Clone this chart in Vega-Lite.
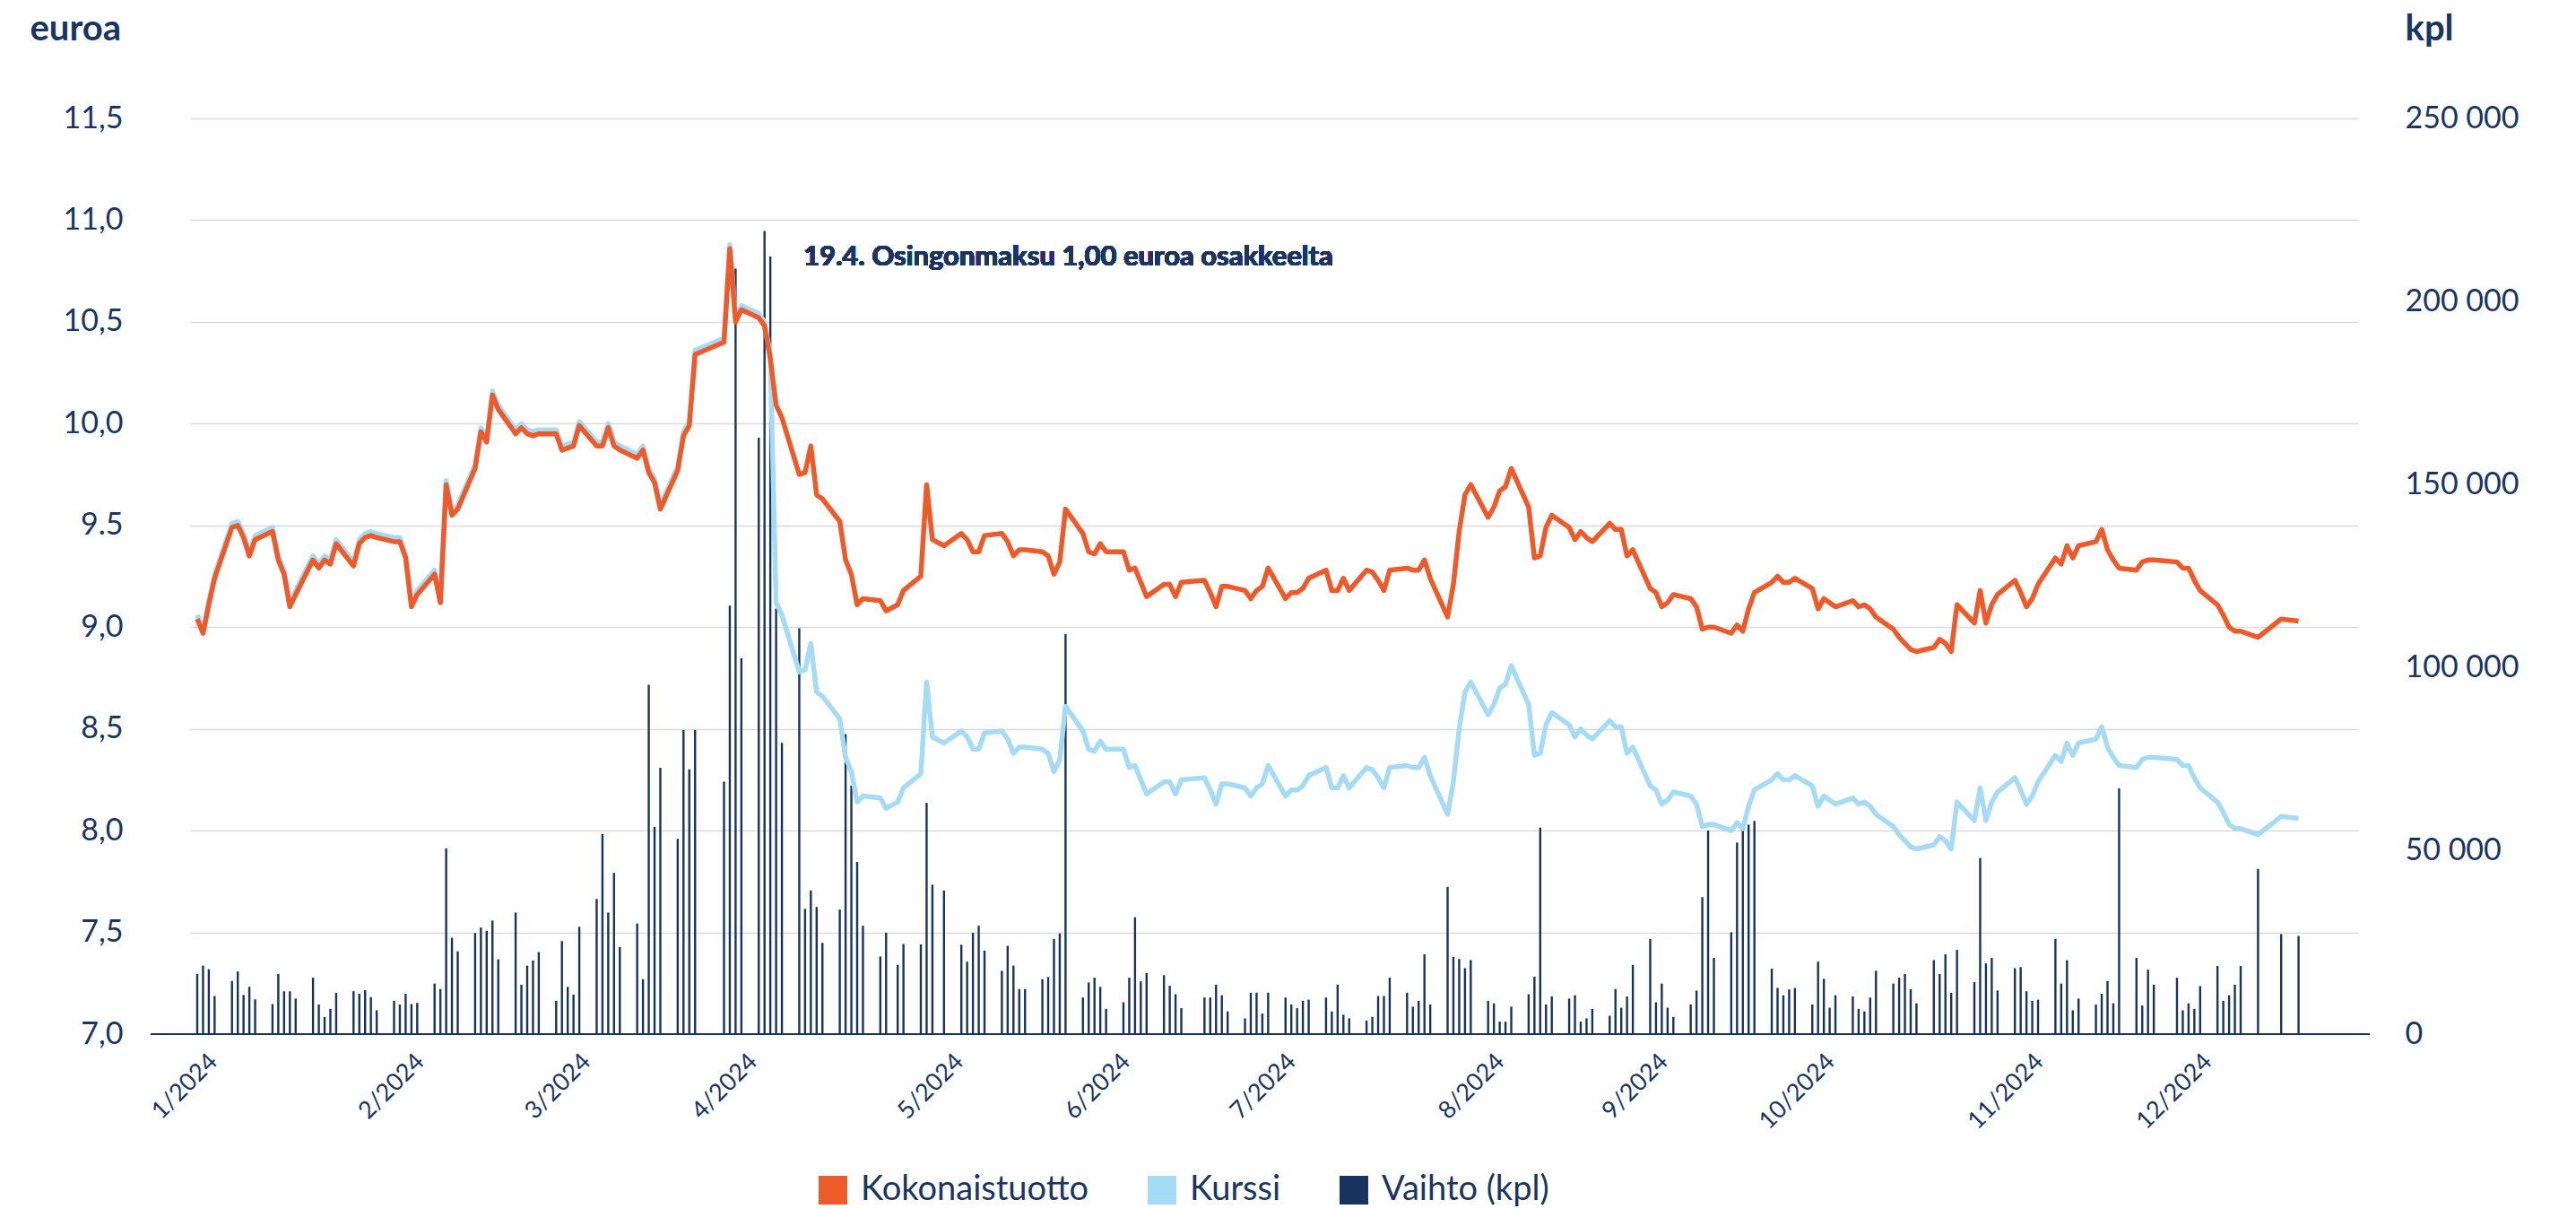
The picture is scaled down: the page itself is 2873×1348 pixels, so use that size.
{
  "$schema": "https://vega.github.io/schema/vega-lite/v6.json",
  "width": 2418,
  "height": 1021,
  "autosize": {"type": "none"},
  "padding": {"left": 212, "top": 132, "right": 243, "bottom": 195},
  "background": "#ffffff",
  "data": {"values": [
    {"d":"2024-01-02","k":9.04,"p":9.06,"v":16400},{"d":"2024-01-03","k":8.97,"p":8.99,"v":18700},{"d":"2024-01-04","k":9.11,"p":9.13,"v":17700},{"d":"2024-01-05","k":9.24,"p":9.26,"v":10400},
    {"d":"2024-01-08","k":9.49,"p":9.51,"v":14500},{"d":"2024-01-09","k":9.50,"p":9.52,"v":17100},{"d":"2024-01-10","k":9.44,"p":9.46,"v":10700},{"d":"2024-01-11","k":9.35,"p":9.37,"v":12900},{"d":"2024-01-12","k":9.43,"p":9.45,"v":9500},
    {"d":"2024-01-15","k":9.47,"p":9.49,"v":8200},{"d":"2024-01-16","k":9.33,"p":9.35,"v":16400},{"d":"2024-01-17","k":9.26,"p":9.28,"v":11700},{"d":"2024-01-18","k":9.10,"p":9.12,"v":11700},{"d":"2024-01-19","k":9.16,"p":9.18,"v":9700},
    {"d":"2024-01-22","k":9.33,"p":9.35,"v":15400},{"d":"2024-01-23","k":9.29,"p":9.31,"v":8100},{"d":"2024-01-24","k":9.33,"p":9.35,"v":4700},{"d":"2024-01-25","k":9.31,"p":9.33,"v":6900},{"d":"2024-01-26","k":9.41,"p":9.43,"v":11300},
    {"d":"2024-01-29","k":9.30,"p":9.32,"v":11700},{"d":"2024-01-30","k":9.41,"p":9.43,"v":11000},{"d":"2024-01-31","k":9.44,"p":9.46,"v":12000},{"d":"2024-02-01","k":9.45,"p":9.47,"v":10100},{"d":"2024-02-02","k":9.44,"p":9.46,"v":6500},
    {"d":"2024-02-05","k":9.42,"p":9.44,"v":9100},{"d":"2024-02-06","k":9.42,"p":9.44,"v":8100},{"d":"2024-02-07","k":9.34,"p":9.36,"v":11000},{"d":"2024-02-08","k":9.10,"p":9.12,"v":8200},{"d":"2024-02-09","k":9.16,"p":9.18,"v":8500},
    {"d":"2024-02-12","k":9.26,"p":9.28,"v":13800},{"d":"2024-02-13","k":9.12,"p":9.14,"v":12300},{"d":"2024-02-14","k":9.70,"p":9.72,"v":50700},{"d":"2024-02-15","k":9.55,"p":9.57,"v":26300},{"d":"2024-02-16","k":9.58,"p":9.60,"v":22600},
    {"d":"2024-02-19","k":9.78,"p":9.80,"v":27600},{"d":"2024-02-20","k":9.96,"p":9.98,"v":29100},{"d":"2024-02-21","k":9.91,"p":9.93,"v":28200},{"d":"2024-02-22","k":10.14,"p":10.16,"v":31000},{"d":"2024-02-23","k":10.07,"p":10.09,"v":20400},
    {"d":"2024-02-26","k":9.95,"p":9.97,"v":33200},{"d":"2024-02-27","k":9.98,"p":10.00,"v":13500},{"d":"2024-02-28","k":9.95,"p":9.97,"v":18700},{"d":"2024-02-29","k":9.94,"p":9.96,"v":20100},{"d":"2024-03-01","k":9.95,"p":9.97,"v":22400},
    {"d":"2024-03-04","k":9.95,"p":9.97,"v":9100},{"d":"2024-03-05","k":9.87,"p":9.89,"v":25400},{"d":"2024-03-06","k":9.88,"p":9.90,"v":12900},{"d":"2024-03-07","k":9.89,"p":9.91,"v":10800},{"d":"2024-03-08","k":9.99,"p":10.01,"v":29300},
    {"d":"2024-03-11","k":9.89,"p":9.91,"v":36900},{"d":"2024-03-12","k":9.89,"p":9.91,"v":54600},{"d":"2024-03-13","k":9.98,"p":10.00,"v":33200},{"d":"2024-03-14","k":9.89,"p":9.91,"v":44000},{"d":"2024-03-15","k":9.87,"p":9.89,"v":23800},
    {"d":"2024-03-18","k":9.83,"p":9.85,"v":30200},{"d":"2024-03-19","k":9.87,"p":9.89,"v":15000},{"d":"2024-03-20","k":9.76,"p":9.78,"v":95400},{"d":"2024-03-21","k":9.71,"p":9.73,"v":56600},{"d":"2024-03-22","k":9.58,"p":9.60,"v":72700},
    {"d":"2024-03-25","k":9.77,"p":9.79,"v":53300},{"d":"2024-03-26","k":9.94,"p":9.96,"v":83000},{"d":"2024-03-27","k":9.99,"p":10.01,"v":72300},{"d":"2024-03-28","k":10.34,"p":10.36,"v":83000},
    {"d":"2024-04-02","k":10.40,"p":10.42,"v":68900},{"d":"2024-04-03","k":10.86,"p":10.88,"v":117000},{"d":"2024-04-04","k":10.50,"p":10.52,"v":209000},{"d":"2024-04-05","k":10.56,"p":10.58,"v":102600},
    {"d":"2024-04-08","k":10.52,"p":10.54,"v":162800},{"d":"2024-04-09","k":10.48,"p":10.50,"v":219300},{"d":"2024-04-10","k":10.32,"p":10.34,"v":212300},{"d":"2024-04-11","k":10.09,"p":9.12,"v":116200},{"d":"2024-04-12","k":10.03,"p":9.06,"v":79500},
    {"d":"2024-04-15","k":9.75,"p":8.78,"v":110800},{"d":"2024-04-16","k":9.76,"p":8.79,"v":34200},{"d":"2024-04-17","k":9.89,"p":8.92,"v":39200},{"d":"2024-04-18","k":9.65,"p":8.68,"v":34700},{"d":"2024-04-19","k":9.63,"p":8.66,"v":24900},
    {"d":"2024-04-22","k":9.52,"p":8.55,"v":34000},{"d":"2024-04-23","k":9.33,"p":8.36,"v":81900},{"d":"2024-04-24","k":9.26,"p":8.29,"v":67800},{"d":"2024-04-25","k":9.11,"p":8.14,"v":47000},{"d":"2024-04-26","k":9.14,"p":8.17,"v":29600},
    {"d":"2024-04-29","k":9.13,"p":8.16,"v":21200},{"d":"2024-04-30","k":9.08,"p":8.11,"v":27700},{"d":"2024-05-02","k":9.11,"p":8.14,"v":18900},{"d":"2024-05-03","k":9.18,"p":8.21,"v":24600},
    {"d":"2024-05-06","k":9.25,"p":8.28,"v":24500},{"d":"2024-05-07","k":9.70,"p":8.73,"v":63100},{"d":"2024-05-08","k":9.43,"p":8.46,"v":40800},{"d":"2024-05-10","k":9.40,"p":8.43,"v":39200},
    {"d":"2024-05-13","k":9.46,"p":8.49,"v":24400},{"d":"2024-05-14","k":9.43,"p":8.46,"v":19800},{"d":"2024-05-15","k":9.37,"p":8.40,"v":27700},{"d":"2024-05-16","k":9.37,"p":8.40,"v":29600},{"d":"2024-05-17","k":9.45,"p":8.48,"v":22800},
    {"d":"2024-05-20","k":9.46,"p":8.49,"v":17300},{"d":"2024-05-21","k":9.42,"p":8.45,"v":24100},{"d":"2024-05-22","k":9.35,"p":8.38,"v":18700},{"d":"2024-05-23","k":9.38,"p":8.41,"v":12300},{"d":"2024-05-24","k":9.38,"p":8.41,"v":12300},
    {"d":"2024-05-27","k":9.37,"p":8.40,"v":15000},{"d":"2024-05-28","k":9.35,"p":8.38,"v":15600},{"d":"2024-05-29","k":9.26,"p":8.29,"v":26000},{"d":"2024-05-30","k":9.32,"p":8.35,"v":27500},{"d":"2024-05-31","k":9.58,"p":8.61,"v":109200},
    {"d":"2024-06-03","k":9.46,"p":8.49,"v":10000},{"d":"2024-06-04","k":9.37,"p":8.40,"v":14100},{"d":"2024-06-05","k":9.36,"p":8.39,"v":15400},{"d":"2024-06-06","k":9.41,"p":8.44,"v":12900},{"d":"2024-06-07","k":9.37,"p":8.40,"v":6900},
    {"d":"2024-06-10","k":9.37,"p":8.40,"v":8700},{"d":"2024-06-11","k":9.28,"p":8.31,"v":15400},{"d":"2024-06-12","k":9.29,"p":8.32,"v":31900},{"d":"2024-06-13","k":9.22,"p":8.25,"v":14400},{"d":"2024-06-14","k":9.15,"p":8.18,"v":16700},
    {"d":"2024-06-17","k":9.21,"p":8.24,"v":16100},{"d":"2024-06-18","k":9.21,"p":8.24,"v":13200},{"d":"2024-06-19","k":9.15,"p":8.18,"v":10900},{"d":"2024-06-20","k":9.22,"p":8.25,"v":7100},
    {"d":"2024-06-24","k":9.23,"p":8.26,"v":10000},{"d":"2024-06-25","k":9.17,"p":8.20,"v":10000},{"d":"2024-06-26","k":9.10,"p":8.13,"v":13500},{"d":"2024-06-27","k":9.20,"p":8.23,"v":10600},{"d":"2024-06-28","k":9.20,"p":8.23,"v":6200},
    {"d":"2024-07-01","k":9.18,"p":8.21,"v":4300},{"d":"2024-07-02","k":9.14,"p":8.17,"v":11300},{"d":"2024-07-03","k":9.18,"p":8.21,"v":11300},{"d":"2024-07-04","k":9.20,"p":8.23,"v":5600},{"d":"2024-07-05","k":9.29,"p":8.32,"v":11300},
    {"d":"2024-07-08","k":9.14,"p":8.17,"v":10000},{"d":"2024-07-09","k":9.17,"p":8.20,"v":8100},{"d":"2024-07-10","k":9.17,"p":8.20,"v":7100},{"d":"2024-07-11","k":9.19,"p":8.22,"v":9100},{"d":"2024-07-12","k":9.24,"p":8.27,"v":9400},
    {"d":"2024-07-15","k":9.28,"p":8.31,"v":10000},{"d":"2024-07-16","k":9.18,"p":8.21,"v":6200},{"d":"2024-07-17","k":9.18,"p":8.21,"v":13500},{"d":"2024-07-18","k":9.24,"p":8.27,"v":5300},{"d":"2024-07-19","k":9.18,"p":8.21,"v":4300},
    {"d":"2024-07-22","k":9.28,"p":8.31,"v":3700},{"d":"2024-07-23","k":9.27,"p":8.30,"v":4700},{"d":"2024-07-24","k":9.23,"p":8.26,"v":10400},{"d":"2024-07-25","k":9.18,"p":8.21,"v":10400},{"d":"2024-07-26","k":9.28,"p":8.31,"v":15400},
    {"d":"2024-07-29","k":9.29,"p":8.32,"v":11300},{"d":"2024-07-30","k":9.28,"p":8.31,"v":7500},{"d":"2024-07-31","k":9.28,"p":8.31,"v":9100},{"d":"2024-08-01","k":9.33,"p":8.36,"v":21800},{"d":"2024-08-02","k":9.24,"p":8.27,"v":8100},
    {"d":"2024-08-05","k":9.05,"p":8.08,"v":40200},{"d":"2024-08-06","k":9.21,"p":8.24,"v":21100},{"d":"2024-08-07","k":9.47,"p":8.50,"v":20500},{"d":"2024-08-08","k":9.65,"p":8.68,"v":18000},{"d":"2024-08-09","k":9.70,"p":8.73,"v":20200},
    {"d":"2024-08-12","k":9.54,"p":8.57,"v":9100},{"d":"2024-08-13","k":9.59,"p":8.62,"v":8400},{"d":"2024-08-14","k":9.67,"p":8.70,"v":3400},{"d":"2024-08-15","k":9.69,"p":8.72,"v":3400},{"d":"2024-08-16","k":9.78,"p":8.81,"v":7500},
    {"d":"2024-08-19","k":9.59,"p":8.62,"v":10900},{"d":"2024-08-20","k":9.34,"p":8.37,"v":15700},{"d":"2024-08-21","k":9.35,"p":8.38,"v":56400},{"d":"2024-08-22","k":9.49,"p":8.52,"v":8100},{"d":"2024-08-23","k":9.55,"p":8.58,"v":10300},
    {"d":"2024-08-26","k":9.49,"p":8.52,"v":9700},{"d":"2024-08-27","k":9.43,"p":8.46,"v":10600},{"d":"2024-08-28","k":9.47,"p":8.50,"v":3400},{"d":"2024-08-29","k":9.44,"p":8.47,"v":4300},{"d":"2024-08-30","k":9.42,"p":8.45,"v":6900},
    {"d":"2024-09-02","k":9.51,"p":8.54,"v":5000},{"d":"2024-09-03","k":9.48,"p":8.51,"v":12300},{"d":"2024-09-04","k":9.48,"p":8.51,"v":7200},{"d":"2024-09-05","k":9.35,"p":8.38,"v":10300},{"d":"2024-09-06","k":9.38,"p":8.41,"v":18900},
    {"d":"2024-09-09","k":9.19,"p":8.22,"v":26000},{"d":"2024-09-10","k":9.17,"p":8.20,"v":8700},{"d":"2024-09-11","k":9.10,"p":8.13,"v":13800},{"d":"2024-09-12","k":9.12,"p":8.15,"v":7200},{"d":"2024-09-13","k":9.16,"p":8.19,"v":4700},
    {"d":"2024-09-16","k":9.14,"p":8.17,"v":8100},{"d":"2024-09-17","k":9.10,"p":8.13,"v":11900},{"d":"2024-09-18","k":8.99,"p":8.02,"v":37400},{"d":"2024-09-19","k":9.00,"p":8.03,"v":55600},{"d":"2024-09-20","k":9.00,"p":8.03,"v":20800},
    {"d":"2024-09-23","k":8.97,"p":8.00,"v":27800},{"d":"2024-09-24","k":9.01,"p":8.04,"v":52300},{"d":"2024-09-25","k":8.98,"p":8.01,"v":56700},{"d":"2024-09-26","k":9.09,"p":8.12,"v":57200},{"d":"2024-09-27","k":9.17,"p":8.20,"v":58200},
    {"d":"2024-09-30","k":9.22,"p":8.25,"v":17900},{"d":"2024-10-01","k":9.25,"p":8.28,"v":12600},{"d":"2024-10-02","k":9.22,"p":8.25,"v":10600},{"d":"2024-10-03","k":9.22,"p":8.25,"v":12200},{"d":"2024-10-04","k":9.24,"p":8.27,"v":12600},
    {"d":"2024-10-07","k":9.19,"p":8.22,"v":8100},{"d":"2024-10-08","k":9.09,"p":8.12,"v":19800},{"d":"2024-10-09","k":9.14,"p":8.17,"v":15100},{"d":"2024-10-10","k":9.12,"p":8.15,"v":7200},{"d":"2024-10-11","k":9.10,"p":8.13,"v":10600},
    {"d":"2024-10-14","k":9.13,"p":8.16,"v":10300},{"d":"2024-10-15","k":9.10,"p":8.13,"v":6900},{"d":"2024-10-16","k":9.11,"p":8.14,"v":6200},{"d":"2024-10-17","k":9.09,"p":8.12,"v":10000},{"d":"2024-10-18","k":9.05,"p":8.08,"v":17300},
    {"d":"2024-10-21","k":8.99,"p":8.02,"v":13800},{"d":"2024-10-22","k":8.95,"p":7.98,"v":15400},{"d":"2024-10-23","k":8.92,"p":7.95,"v":16400},{"d":"2024-10-24","k":8.89,"p":7.92,"v":12300},{"d":"2024-10-25","k":8.88,"p":7.91,"v":8400},
    {"d":"2024-10-28","k":8.90,"p":7.93,"v":20200},{"d":"2024-10-29","k":8.94,"p":7.97,"v":16400},{"d":"2024-10-30","k":8.92,"p":7.95,"v":21800},{"d":"2024-10-31","k":8.88,"p":7.91,"v":11300},{"d":"2024-11-01","k":9.11,"p":8.14,"v":23000},
    {"d":"2024-11-04","k":9.02,"p":8.05,"v":14200},{"d":"2024-11-05","k":9.18,"p":8.21,"v":48100},{"d":"2024-11-06","k":9.02,"p":8.05,"v":19300},{"d":"2024-11-07","k":9.11,"p":8.14,"v":20800},{"d":"2024-11-08","k":9.16,"p":8.19,"v":11900},
    {"d":"2024-11-11","k":9.23,"p":8.26,"v":18000},{"d":"2024-11-12","k":9.17,"p":8.20,"v":18300},{"d":"2024-11-13","k":9.10,"p":8.13,"v":11700},{"d":"2024-11-14","k":9.14,"p":8.17,"v":9100},{"d":"2024-11-15","k":9.21,"p":8.24,"v":9400},
    {"d":"2024-11-18","k":9.34,"p":8.37,"v":26000},{"d":"2024-11-19","k":9.31,"p":8.34,"v":13800},{"d":"2024-11-20","k":9.40,"p":8.43,"v":20200},{"d":"2024-11-21","k":9.34,"p":8.37,"v":6500},{"d":"2024-11-22","k":9.40,"p":8.43,"v":9700},
    {"d":"2024-11-25","k":9.42,"p":8.45,"v":8100},{"d":"2024-11-26","k":9.48,"p":8.51,"v":11000},{"d":"2024-11-27","k":9.38,"p":8.41,"v":14500},{"d":"2024-11-28","k":9.33,"p":8.36,"v":8400},{"d":"2024-11-29","k":9.29,"p":8.32,"v":67100},
    {"d":"2024-12-02","k":9.28,"p":8.31,"v":20800},{"d":"2024-12-03","k":9.32,"p":8.35,"v":7800},{"d":"2024-12-04","k":9.33,"p":8.36,"v":17600},{"d":"2024-12-05","k":9.33,"p":8.36,"v":13500},
    {"d":"2024-12-09","k":9.32,"p":8.35,"v":15400},{"d":"2024-12-10","k":9.29,"p":8.32,"v":6500},{"d":"2024-12-11","k":9.29,"p":8.32,"v":8400},{"d":"2024-12-12","k":9.23,"p":8.26,"v":6900},{"d":"2024-12-13","k":9.18,"p":8.21,"v":13100},
    {"d":"2024-12-16","k":9.11,"p":8.14,"v":18600},{"d":"2024-12-17","k":9.06,"p":8.09,"v":9100},{"d":"2024-12-18","k":9.00,"p":8.03,"v":10600},{"d":"2024-12-19","k":8.98,"p":8.01,"v":13500},{"d":"2024-12-20","k":8.98,"p":8.01,"v":18600},
    {"d":"2024-12-23","k":8.95,"p":7.98,"v":45100},{"d":"2024-12-27","k":9.04,"p":8.07,"v":27300},{"d":"2024-12-30","k":9.03,"p":8.06,"v":26800}
  ]},
  "layer": [
    {
      "mark": {"type": "bar", "size": 2.4, "color": "#17335e"},
      "encoding": {
        "x": {
          "field": "d", "type": "temporal",
          "scale": {"type": "utc", "domain": [{"year": 2024, "month": 1, "date": 1, "hours": 12, "minutes": 54, "utc": true}, {"year": 2025, "month": 1, "date": 8, "hours": 12, "minutes": 26, "utc": true}]},
          "axis": {
            "orient": "bottom", "title": null, "grid": false, "domain": false, "ticks": false, "tickSize": 0,
            "labelAngle": -45, "labelPadding": 17, "labelFontSize": 27, "labelOverlap": false, "labelFlush": false,
            "values": [
              {"year": 2024, "month": 1, "date": 3, "hours": 8, "minutes": 10, "utc": true},
              {"year": 2024, "month": 2, "date": 8, "hours": 1, "minutes": 40, "utc": true},
              {"year": 2024, "month": 3, "date": 7, "hours": 19, "minutes": 26, "utc": true},
              {"year": 2024, "month": 4, "date": 5, "hours": 14, "minutes": 38, "utc": true},
              {"year": 2024, "month": 5, "date": 11, "hours": 5, "minutes": 31, "utc": true},
              {"year": 2024, "month": 6, "date": 9, "hours": 0, "minutes": 43, "utc": true},
              {"year": 2024, "month": 7, "date": 7, "hours": 16, "minutes": 5, "utc": true},
              {"year": 2024, "month": 8, "date": 12, "hours": 15, "minutes": 50, "utc": true},
              {"year": 2024, "month": 9, "date": 9, "hours": 22, "minutes": 19, "utc": true},
              {"year": 2024, "month": 10, "date": 8, "hours": 17, "minutes": 45, "utc": true},
              {"year": 2024, "month": 11, "date": 13, "hours": 18, "minutes": 43, "utc": true},
              {"year": 2024, "month": 12, "date": 12, "hours": 22, "minutes": 5, "utc": true}
            ],
            "labelExpr": "utcFormat(datum.value, '%-m/%Y')"
          }
        },
        "y": {
          "field": "v", "type": "quantitative",
          "scale": {"domain": [0, 250000], "nice": false, "zero": true},
          "axis": {
            "orient": "right", "title": "kpl", "grid": false, "domain": false, "ticks": false,
            "values": [0, 50000, 100000, 150000, 200000, 250000],
            "labelExpr": "datum.value == 0 ? '0' : replace(format(datum.value, ','), ',', ' ')",
            "labelAlign": "left", "labelPadding": 52, "labelFontSize": 34,
            "titleAngle": 0, "titleAlign": "left", "titleBaseline": "alphabetic", "titleX": 52, "titleY": -88,
            "titleFontSize": 40, "titleFontWeight": "bold"
          }
        },
        "color": {
          "datum": "Vaihto (kpl)",
          "scale": {"domain": ["Kokonaistuotto", "Kurssi", "Vaihto (kpl)"], "range": ["#ef5a2a", "#a6dbf5", "#17335e"]},
          "legend": {
            "encode": {"symbols": {"update": {"fill": {"scale": "color", "field": "value"}, "stroke": {"value": "transparent"}, "opacity": {"value": 1}, "shape": {"value": "square"}}}}
          }
        }
      }
    },
    {
      "layer": [
        {
          "mark": {"type": "rule", "color": "#1a3561", "strokeWidth": 1.5},
          "encoding": {
            "x": {"datum": {"year": 2023, "month": 12, "date": 25, "utc": true}, "type": "temporal", "axis": {"title": null}},
            "x2": {"datum": {"year": 2025, "month": 1, "date": 11, "hours": 7, "utc": true}},
            "y": {"datum": 7, "type": "quantitative", "axis": {"title": "euroa"}}
          }
        },
        {
          "mark": {"type": "line", "strokeWidth": 5.5, "strokeJoin": "round"},
          "encoding": {
            "x": {"field": "d", "type": "temporal", "axis": {"title": null}},
            "y": {
              "field": "p", "type": "quantitative",
              "scale": {"domain": [7, 11.5], "nice": false, "zero": false},
              "axis": {
                "orient": "left", "title": "euroa", "grid": true, "gridColor": "#dadada", "gridWidth": 1.5,
                "domain": false, "ticks": false,
                "values": [7, 7.5, 8, 8.5, 9, 9.5, 10, 10.5, 11, 11.5],
                "labelExpr": "datum.value == 9.5 ? '9.5' : replace(format(datum.value, '.1f'), '.', ',')",
                "labelPadding": 75, "labelFontSize": 34,
                "titleAngle": 0, "titleAlign": "left", "titleBaseline": "alphabetic", "titleX": -179, "titleY": -88,
                "titleFontSize": 40, "titleFontWeight": "bold"
              }
            },
            "color": {"datum": "Kurssi", "scale": {"domain": ["Kokonaistuotto", "Kurssi", "Vaihto (kpl)"], "range": ["#ef5a2a", "#a6dbf5", "#17335e"]}}
          }
        },
        {
          "mark": {"type": "line", "strokeWidth": 5.5, "strokeJoin": "round"},
          "encoding": {
            "x": {"field": "d", "type": "temporal", "axis": {"title": null}},
            "y": {"field": "k", "type": "quantitative", "axis": {"title": "euroa"}},
            "color": {"datum": "Kokonaistuotto", "scale": {"domain": ["Kokonaistuotto", "Kurssi", "Vaihto (kpl)"], "range": ["#ef5a2a", "#a6dbf5", "#17335e"]}}
          }
        },
        {
          "mark": {"type": "text", "text": "19.4. Osingonmaksu 1,00 euroa osakkeelta", "align": "left", "baseline": "alphabetic", "font": "Lato", "fontSize": 31, "fontWeight": "bold", "color": "#1a3561"},
          "encoding": {
            "x": {"datum": {"year": 2024, "month": 4, "date": 15, "hours": 17, "utc": true}, "type": "temporal", "axis": {"title": null}},
            "y": {"datum": 10.777, "type": "quantitative", "axis": {"title": "euroa"}}
          }
        }
      ]
    }
  ],
  "resolve": {"scale": {"y": "independent"}, "axis": {"y": "independent"}},
  "config": {
    "view": {"stroke": null},
    "font": "Lato",
    "axis": {"labelFont": "Lato", "titleFont": "Lato", "labelColor": "#1a3561", "titleColor": "#1a3561"},
    "legend": {
      "orient": "none", "legendX": 698, "legendY": 1176, "direction": "horizontal", "title": null,
      "symbolType": "square", "symbolSize": 1024, "symbolStrokeWidth": 0,
      "labelFont": "Lato", "labelFontSize": 38, "labelColor": "#1a3561", "labelOffset": 12,
      "columnPadding": 62, "padding": 0, "labelLimit": 600
    }
  }
}
